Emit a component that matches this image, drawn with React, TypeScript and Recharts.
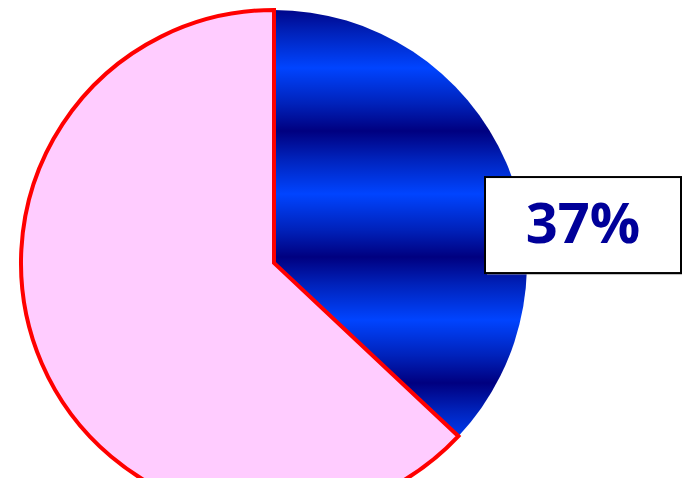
import { Pie, PieChart, Cell } from "recharts";

const names = ["Share", "Rest"];
const values = [37, 63];
const fills = ["url(#bands)", "#ffccff"];
const strokes = ["none", "#ff0000"];

const data = names.map((name, i) => ({ name, value: values[i] }));

function BoxLabel(props: any) {
  const { cx, cy, outerRadius, index, percent } = props;
  if (index !== 0) return null;
  const w = 196;
  const h = 96;
  const x = cx + outerRadius * 0.834;
  const yc = cy - outerRadius * 0.15;
  return (
    <g>
      <rect x={x + 2} y={yc - h / 2 + 2} width={w} height={h} fill="#999" opacity={0.5} />
      <rect x={x} y={yc - h / 2} width={w} height={h} fill="#fff" stroke="#000" strokeWidth={2} />
      <text
        x={x + w / 2}
        y={yc - 4}
        textAnchor="middle"
        dominantBaseline="central"
        fill="#000099"
        fontFamily="'Open Sans', Lato, sans-serif"
        fontWeight={700}
        fontSize={56}
      >
        {`${Math.round(percent * 100)}%`}
      </text>
    </g>
  );
}

export default function App() {
  return (
    <div style={{ width: 682, height: 478, overflow: "hidden" }}>
      <style>{`body{margin:0}`}</style>
      <PieChart width={682} height={478} margin={{ top: 0, right: 0, bottom: 0, left: 0 }}>
        <defs>
          <linearGradient id="bands" gradientUnits="userSpaceOnUse" x1="0" y1="5" x2="0" y2="131" spreadMethod="repeat">
            <stop offset="0" stopColor="#000080" />
            <stop offset="0.22" stopColor="#0022bb" />
            <stop offset="0.5" stopColor="#0044ff" />
            <stop offset="0.78" stopColor="#0022bb" />
            <stop offset="1" stopColor="#000080" />
          </linearGradient>
        </defs>
        <Pie
          data={data}
          dataKey="value"
          nameKey="name"
          cx={274}
          cy={263}
          outerRadius={253}
          startAngle={90}
          endAngle={-270}
          labelLine={false}
          label={BoxLabel}
          isAnimationActive={false}
        >
          {data.map((d, i) => (
            <Cell key={d.name} fill={fills[i]} stroke={strokes[i]} strokeWidth={4} />
          ))}
        </Pie>
      </PieChart>
    </div>
  );
}
